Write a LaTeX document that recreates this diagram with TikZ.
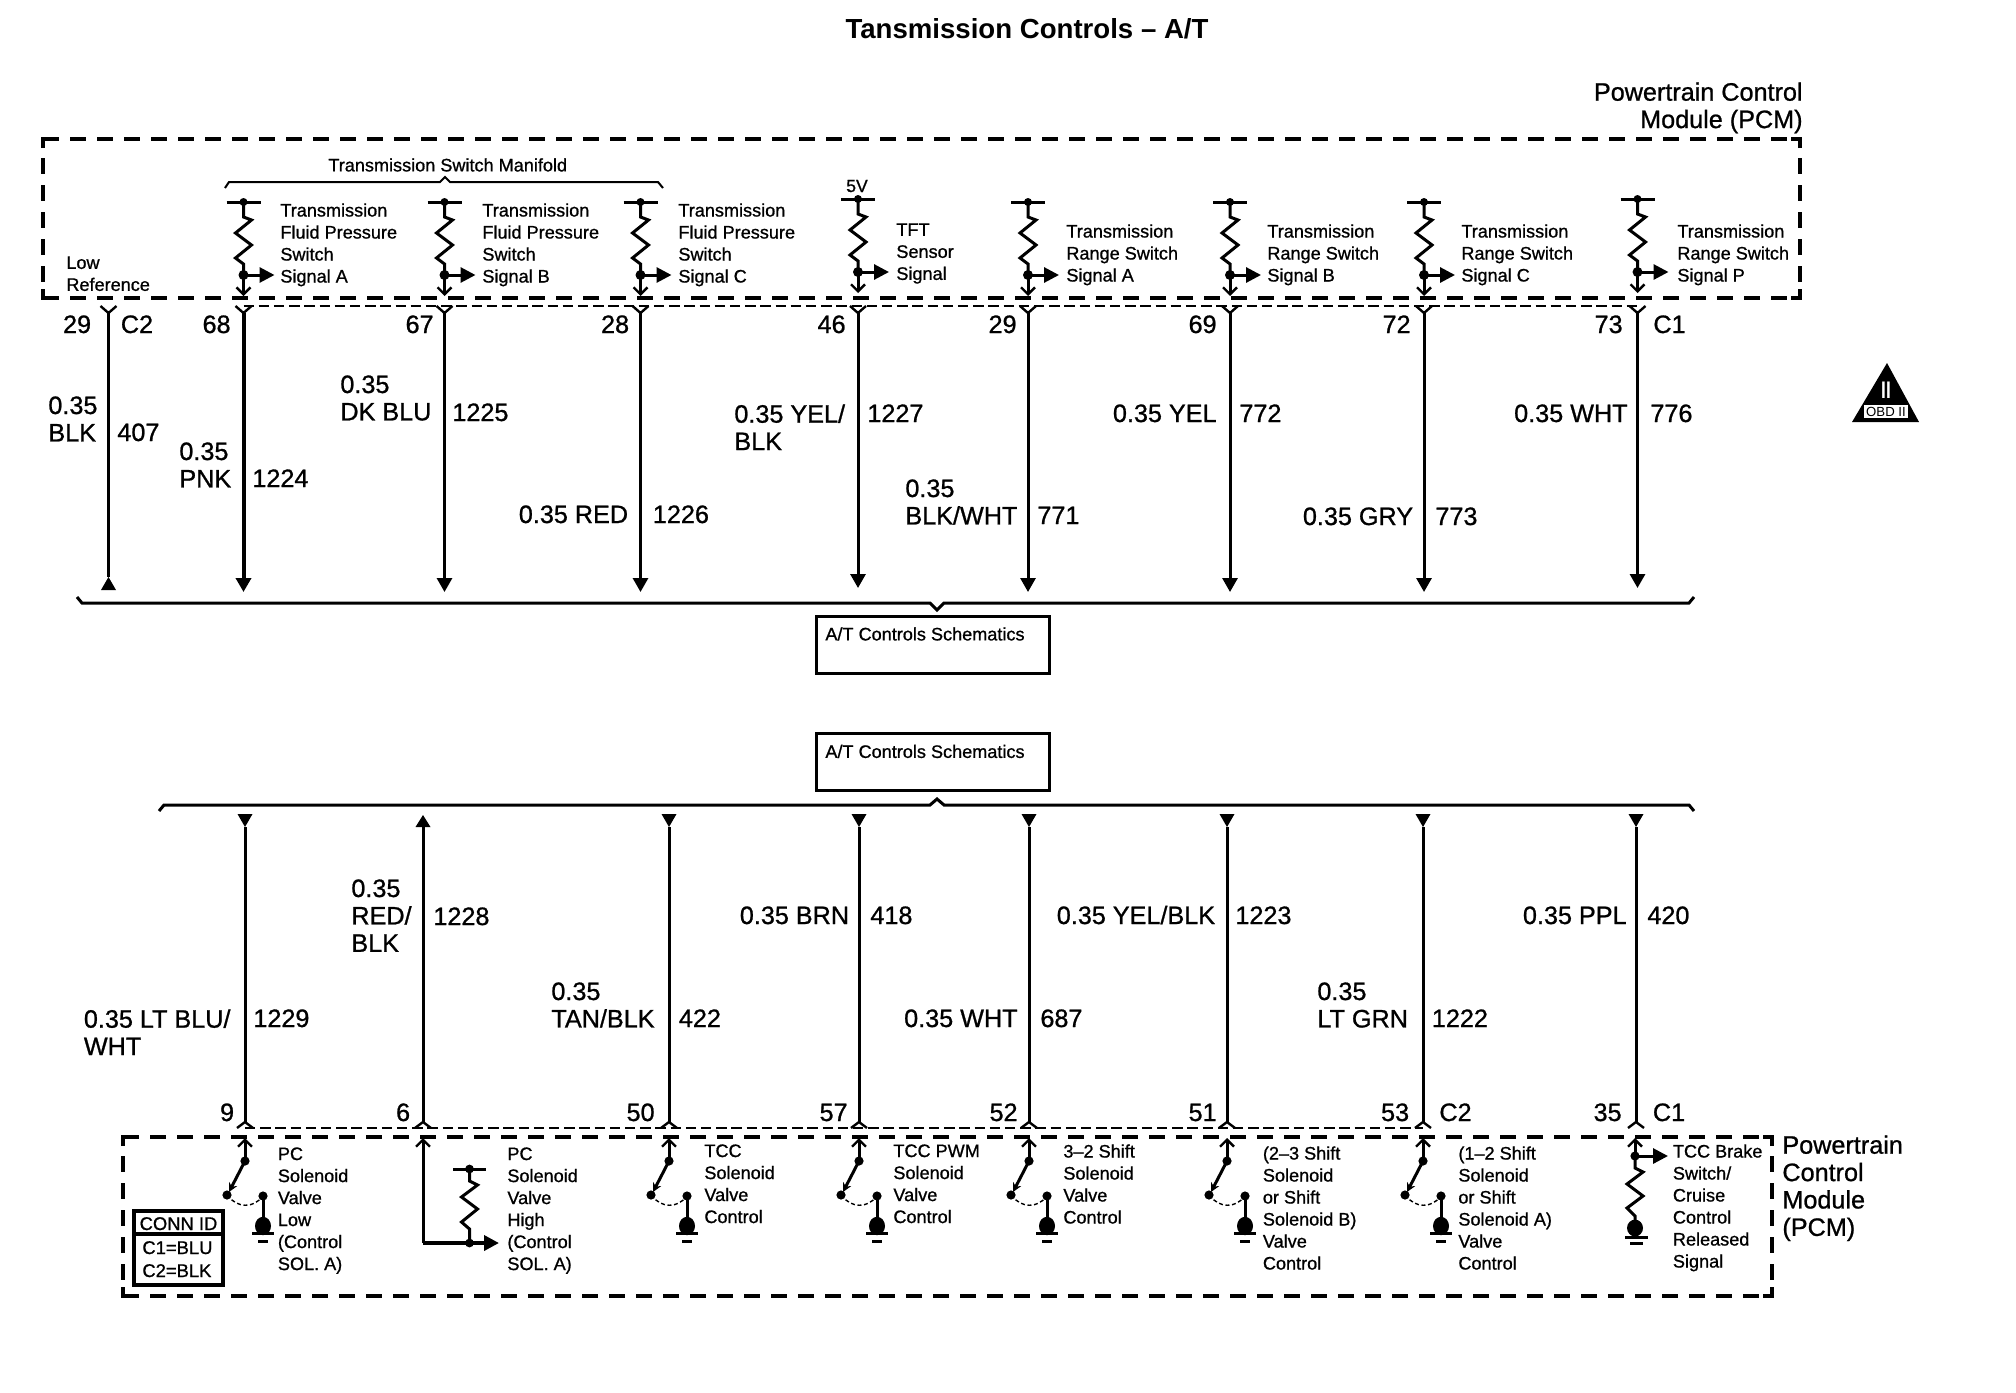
\documentclass[tikz,border=0pt]{standalone}
\usepackage{fontspec}
\setmainfont[FakeBold=0.9]{Liberation Sans}
\newfontfamily\ttlfont{Liberation Sans}
\usetikzlibrary{arrows.meta}
\tikzset{
 smalltxt/.style={font=\fontsize{9.05}{11}\selectfont,align=left,inner sep=0pt,anchor=north west,yshift=7pt,execute at begin node={\rule{0pt}{8pt}}},
 tinylabel/.style={font=\fontsize{8.8}{11}\selectfont,inner sep=0pt,anchor=base},
 bigtxt/.style={font=\fontsize{12.6}{13.7}\selectfont,align=left,inner sep=0pt,anchor=north west,yshift=9pt,execute at begin node={\rule{0pt}{11pt}}},
 numL/.style={font=\fontsize{12.6}{13.7}\selectfont,inner sep=0pt,anchor=base east},
 numR/.style={font=\fontsize{12.6}{13.7}\selectfont,inner sep=0pt,anchor=base west},
 wire/.style={line width=1.5pt},
 comp/.style={line width=1.5pt},
 thinline/.style={line width=1.2pt},
 heavydash/.style={line width=2.4pt,dash pattern=on 8pt off 5.5pt},
 corner/.style={line width=2.4pt},
 fineDash/.style={line width=1pt,dash pattern=on 5.2pt off 2.4pt},
 arcDash/.style={line width=.7pt,dash pattern=on 2pt off 1.3pt},
 downtip/.style={-{Triangle[length=7pt,width=7.5pt]}},
 sigtip/.style={-{Triangle[length=7.5pt,width=7.5pt]}},
 opentip/.style={-{Straight Barb[length=3.5pt,width=7pt,line width=1.2pt]}},
 armtip/.style={-{Stealth[length=4.5pt,width=4.5pt]}},
 schem/.style={draw,line width=1.6pt,anchor=north west,minimum width=116.5pt,minimum height=28.5pt,inner sep=0pt},
}
% pull-up resistor inside the upper module
\newcommand{\pullup}[3]{%
 \begin{scope}[shift={(#2,#3)}]
  \coordinate (#1top) at (0,0); \coordinate (#1dot) at (0,73);
  \coordinate (#1tip) at (0,94); \coordinate (#1sig) at (31,73);
  \draw[comp] (-17,0) -- (17,0);
  \draw[comp] (#1top) -- (0,15) -- (8,18) -- (-8,31) -- (8,43) -- (-8,56) -- (0,62) -- (#1dot);
  \fill (#1top) circle (2pt); \fill (#1dot) circle (2.5pt);
  \draw[comp,sigtip] (#1dot) -- (#1sig);
  \draw[comp,opentip] (#1dot) -- (#1tip);
 \end{scope}}
% fork below upper module and wire to bottom arrow
\newcommand{\upwire}[4]{% name,x,tipy,style
 \coordinate (#1f) at (#2,313); \coordinate (#1e) at (#2,#3);
 \coordinate (#1l) at (#2-8,306); \coordinate (#1r) at (#2+8,306);
 \draw[thinline] (#1l) -- (#1f) -- (#1r);
 \draw[#4,downtip] (#1f) -- (#1e);}
% wire down from the lower bracket to the fork
\newcommand{\lowwire}[2]{%
 \coordinate (#1s) at (#2,814); \coordinate (#1t) at (#2,827);
 \coordinate (#1f) at (#2,1122);
 \coordinate (#1l) at (#2-8,1128); \coordinate (#1r) at (#2+8,1128);
 \draw[wire] (#1t) -- (#1f);
 \draw[thinline] (#1l) -- (#1f) -- (#1r);
 \fill (#2-7.5,814) -- (#2+7.5,814) -- (#1t) -- cycle;}
% switch to ground inside the lower module
\newcommand{\solsw}[2]{%
 \begin{scope}[shift={(#2,0)}]
  \coordinate (#1in) at (0,1138); \coordinate (#1piv) at (0,1161);
  \coordinate (#1arm) at (-16,1192); \coordinate (#1end) at (-18,1195);
  \coordinate (#1con) at (18,1196); \coordinate (#1gnd) at (18,1226);
  \draw[comp,opentip] (#1piv) -- (#1in);
  \draw[comp,armtip] (#1piv) -- (#1arm);
  \fill (#1piv) circle (2.3pt); \fill (#1end) circle (2.3pt); \fill (#1con) circle (2.3pt);
  \draw[arcDash] (#1end) .. controls (-8,1208) and (8,1209) .. (#1con);
  \draw[comp] (#1con) -- (#1gnd);
  \fill (#1gnd) ellipse (4pt and 4.6pt);
  \draw[comp] (7,1233) -- (29,1233);
  \draw[comp] (13,1241) -- (23,1241);
 \end{scope}}
\begin{document}
\begin{tikzpicture}[x=0.5pt,y=-0.5pt]
\useasboundingbox (0,0) rectangle (2016,1392);
\node[font=\ttlfont\bfseries\fontsize{13.8}{15}\selectfont,inner sep=0pt,anchor=base] (title) at (1027,38) {Tansmission Controls – A/T};

% ---------- upper module ----------
\node[bigtxt,align=right,anchor=north east] (pcmtop) at (1803,100) {Powertrain Control\\Module (PCM)};
\coordinate (utl) at (43,139); \coordinate (utr) at (1800,139);
\coordinate (ubl) at (43,298); \coordinate (ubr) at (1800,298);
\draw[heavydash] (utl) -- (utr);
\draw[heavydash] (ubl) -- (ubr);
\draw[heavydash,dash phase=4pt] (utl) -- (ubl);
\draw[heavydash,dash phase=4pt] (utr) -- (ubr);
\draw[corner] (43,148) |- (52,139);
\draw[corner] (43,289) |- (52,298);
\draw[corner] (1800,148) |- (1791,139);
\draw[corner] (1800,289) |- (1791,298);

\node[smalltxt] (manif) at (328,169) {Transmission Switch Manifold};
\draw[line width=1pt] (225,188) -- (229,182) -- (440,182) -- (445,177) -- (450,182) -- (658,182) -- (663,188);

\node[smalltxt] (lowref) at (66,270) {Low\\Reference};
\pullup{a}{243.5}{202}
\pullup{b}{444.5}{202}
\pullup{c}{640.5}{202}
\pullup{d}{858}{199}
\pullup{e}{1028}{202}
\pullup{f}{1230}{202}
\pullup{g}{1424}{202}
\pullup{h}{1637.5}{199}
\node[smalltxt] (ta) at (280,217) {Transmission\\Fluid Pressure\\Switch\\Signal A};
\node[smalltxt] (tb) at (482,217) {Transmission\\Fluid Pressure\\Switch\\Signal B};
\node[smalltxt] (tc) at (678,217) {Transmission\\Fluid Pressure\\Switch\\Signal C};
\node[tinylabel] (fivev) at (857,192) {5V};
\node[smalltxt] (td) at (896,237) {TFT\\Sensor\\Signal};
\node[smalltxt] (te) at (1066,238) {Transmission\\Range Switch\\Signal A};
\node[smalltxt] (tf) at (1267,238) {Transmission\\Range Switch\\Signal B};
\node[smalltxt] (tg) at (1461,238) {Transmission\\Range Switch\\Signal C};
\node[smalltxt] (th) at (1677,238) {Transmission\\Range Switch\\Signal P};

% ---------- upper wires ----------
\draw[fineDash] (243.5,306) -- (1637.5,306);
\coordinate (w0f) at (108.5,313); \coordinate (w0e) at (108.5,577);
\draw[thinline] (100.5,306) -- (w0f) -- (116.5,306);
\draw[line width=1.2pt] (w0f) -- (w0e);
\fill (w0e) -- (101,590) -- (116,590) -- cycle;
\upwire{wa}{243.5}{592}{line width=2pt}
\upwire{wb}{444.5}{592}{wire}
\upwire{wc}{640.5}{592}{wire}
\upwire{wd}{858}{588}{wire}
\upwire{we}{1028}{592}{wire}
\upwire{wf}{1230}{592}{wire}
\upwire{wg}{1424}{592}{wire}
\upwire{wh}{1637.5}{588}{wire}

\node[numL] (p29a) at (91.5,333) {29};
\node[numR] (c2a) at (120.5,333) {C2};
\node[numL] (p68) at (231,333) {68};
\node[numL] (p67) at (434,333) {67};
\node[numL] (p28) at (629.5,333) {28};
\node[numL] (p46) at (846,333) {46};
\node[numL] (p29b) at (1017,333) {29};
\node[numL] (p69) at (1217,333) {69};
\node[numL] (p72) at (1411,333) {72};
\node[numL] (p73) at (1623,333) {73};
\node[numR] (c1a) at (1653,333) {C1};

\node[bigtxt] (l407) at (48,414) {0.35\\BLK};
\node[numR] (n407) at (117,441) {407};
\node[bigtxt] (l1224) at (179,460) {0.35\\PNK};
\node[numR] (n1224) at (252,487) {1224};
\node[bigtxt] (l1225) at (340,393) {0.35\\DK BLU};
\node[numR] (n1225) at (452,421) {1225};
\node[numL] (l1226) at (628.5,523) {0.35 RED};
\node[numR] (n1226) at (652.5,523) {1226};
\node[bigtxt] (l1227) at (734,422) {0.35 YEL/\\BLK};
\node[numR] (n1227) at (867,422) {1227};
\node[bigtxt] (l771) at (905,497) {0.35\\BLK/WHT};
\node[numR] (n771) at (1037,524) {771};
\node[numL] (l772) at (1217,422) {0.35 YEL};
\node[numR] (n772) at (1239,422) {772};
\node[numL] (l773) at (1413.5,525) {0.35 GRY};
\node[numR] (n773) at (1435,525) {773};
\node[numL] (l776) at (1628,422) {0.35 WHT};
\node[numR] (n776) at (1650,422) {776};

% ---------- brackets and schematic boxes ----------
\draw[line width=1.5pt] (77,597) -- (82,603) -- (930,603) -- (937,610) -- (944,603) -- (1689,603) -- (1694,597);
\node[schem] (sch1) at (815,615) {};
\node[smalltxt] (sch1t) at (825,638) {A/T Controls Schematics};
\node[schem] (sch2) at (815,732) {};
\node[smalltxt] (sch2t) at (825,755.5) {A/T Controls Schematics};
\draw[line width=1.5pt] (159,811) -- (164,805) -- (930,805) -- (937,799) -- (944,805) -- (1689,805) -- (1694,811);

% ---------- lower wires ----------
\lowwire{xa}{245}
\lowwire{xc}{669}
\lowwire{xd}{859}
\lowwire{xe}{1029}
\lowwire{xf}{1227}
\lowwire{xg}{1423}
\lowwire{xh}{1636}
\coordinate (xbf) at (423,1122);
\draw[wire] (xbf) -- (423,827);
\fill (423,815) -- (415.5,827) -- (430.5,827) -- cycle;
\draw[thinline] (415,1128) -- (xbf) -- (431,1128);
\draw[fineDash] (245,1128) -- (1423,1128);

\node[numL] (q9) at (234.5,1121) {9};
\node[numL] (q6) at (410.5,1121) {6};
\node[numL] (q50) at (655,1121) {50};
\node[numL] (q57) at (848,1121) {57};
\node[numL] (q52) at (1018,1121) {52};
\node[numL] (q51) at (1217,1121) {51};
\node[numL] (q53) at (1409.5,1121) {53};
\node[numR] (c2b) at (1439,1121) {C2};
\node[numL] (q35) at (1622,1121) {35};
\node[numR] (c1b) at (1652.5,1121) {C1};

\node[bigtxt] (l1229) at (83.5,1027) {0.35 LT BLU/\\WHT};
\node[numR] (n1229) at (253,1027) {1229};
\node[bigtxt] (l1228) at (351,897) {0.35\\RED/\\BLK};
\node[numR] (n1228) at (433,925) {1228};
\node[bigtxt] (l422) at (551,1000) {0.35\\TAN/BLK};
\node[numR] (n422) at (678.5,1027) {422};
\node[numL] (l418) at (849.5,924) {0.35 BRN};
\node[numR] (n418) at (870,924) {418};
\node[numL] (l687) at (1018,1027) {0.35 WHT};
\node[numR] (n687) at (1040,1027) {687};
\node[numL] (l1223) at (1215.5,924) {0.35 YEL/BLK};
\node[numR] (n1223) at (1235,924) {1223};
\node[bigtxt] (l1222) at (1317,1000) {0.35\\LT GRN};
\node[numR] (n1222) at (1431.5,1027) {1222};
\node[numL] (l420) at (1627,924) {0.35 PPL};
\node[numR] (n420) at (1647,924) {420};

% ---------- lower module ----------
\coordinate (ltl) at (123,1137); \coordinate (ltr) at (1772,1137);
\coordinate (lbl) at (123,1296); \coordinate (lbr) at (1772,1296);
\draw[heavydash] (ltl) -- (ltr);
\draw[heavydash] (lbl) -- (lbr);
\draw[heavydash,dash phase=4pt] (ltl) -- (lbl);
\draw[heavydash,dash phase=4pt] (ltr) -- (lbr);
\draw[corner] (123,1146) |- (132,1137);
\draw[corner] (123,1287) |- (132,1296);
\draw[corner] (1772,1146) |- (1763,1137);
\draw[corner] (1772,1287) |- (1763,1296);

\solsw{sa}{245}
\solsw{sc}{669}
\solsw{sd}{859}
\solsw{se}{1029}
\solsw{sf}{1227}
\solsw{sg}{1423}

% valve high
\coordinate (vin) at (423,1138); \coordinate (vcor) at (423,1243);
\coordinate (vdot) at (469.5,1243); \coordinate (vsig) at (499,1243); \coordinate (vtop) at (469.5,1169);
\draw[line width=1.5pt,opentip] (vcor) -- (vin);
\draw[line width=1.8pt,sigtip] (vcor) -- (vsig);
\draw[comp] (453,1169) -- (486,1169);
\draw[comp] (vtop) -- (469.5,1181) -- (477.5,1185) -- (461.5,1197) -- (477.5,1209) -- (461.5,1222) -- (469.5,1229) -- (vdot);
\fill (vtop) circle (2.2pt); \fill (vdot) circle (2.2pt);

% brake switch
\coordinate (bin) at (1635,1138); \coordinate (bdot) at (1635,1156);
\coordinate (bsig) at (1668,1156); \coordinate (bgnd) at (1635,1228);
\draw[comp,opentip] (bdot) -- (bin);
\draw[comp,sigtip] (bdot) -- (bsig);
\draw[comp] (bdot) -- (1635,1168) -- (1643,1172) -- (1627,1184) -- (1643,1196) -- (1627,1208) -- (1635,1216) -- (bgnd);
\fill (bdot) circle (2.3pt);
\fill (bgnd) ellipse (4pt and 4.2pt);
\draw[comp] (1625,1237) -- (1648,1237);
\draw[comp] (1630,1243) -- (1643,1243);

\node[smalltxt] (sa1) at (277.5,1161) {PC\\Solenoid\\Valve\\Low\\(Control\\SOL. A)};
\node[smalltxt] (sb1) at (507,1161) {PC\\Solenoid\\Valve\\High\\(Control\\SOL. A)};
\node[smalltxt] (sc1) at (704,1158) {TCC\\Solenoid\\Valve\\Control};
\node[smalltxt] (sd1) at (893,1158) {TCC PWM\\Solenoid\\Valve\\Control};
\node[smalltxt] (se1) at (1063,1158) {3–2 Shift\\Solenoid\\Valve\\Control};
\node[smalltxt] (sf1) at (1262.5,1160) {(2–3 Shift\\Solenoid\\or Shift\\Solenoid B)\\Valve\\Control};
\node[smalltxt] (sg1) at (1458,1160) {(1–2 Shift\\Solenoid\\or Shift\\Solenoid A)\\Valve\\Control};
\node[smalltxt] (sh1) at (1672.5,1158) {TCC Brake\\Switch/\\Cruise\\Control\\Released\\Signal};
\node[bigtxt] (pcmlow) at (1782,1153) {Powertrain\\Control\\Module\\(PCM)};

% connector id box
\draw[line width=1.7pt] (134,1211) rectangle (223,1285);
\draw[line width=1.7pt] (134,1234) -- (223,1234);
\node[font=\fontsize{9.2}{11}\selectfont,inner sep=0pt,anchor=base] (conn) at (178.5,1230) {CONN ID};
\node[font=\fontsize{9.2}{11}\selectfont,inner sep=0pt,anchor=base west] (c1b2) at (142,1254) {C1=BLU};
\node[font=\fontsize{9.2}{11}\selectfont,inner sep=0pt,anchor=base west] (c2b2) at (142,1277) {C2=BLK};

% OBD II symbol
\fill (1887,363) -- (1919,422) -- (1852,422) -- cycle;
\node[text=white,font=\ttlfont\bfseries\fontsize{12}{12}\selectfont,inner sep=0pt,anchor=base,xscale=.72] (obd2) at (1886,398) {II};
\fill[white] (1864,405) rectangle (1908,418);
\node[font=\ttlfont\fontsize{6.6}{7}\selectfont,inner sep=0pt,anchor=base] (obd) at (1886,416.5) {OBD II};
\end{tikzpicture}
\end{document}
